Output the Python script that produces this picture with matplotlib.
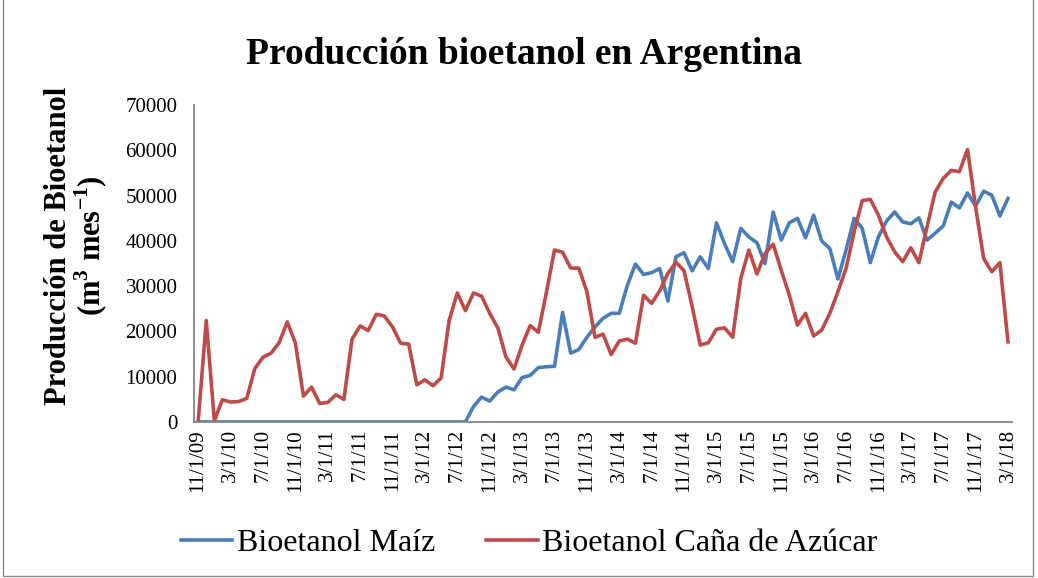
import numpy as np
import pandas as pd
import matplotlib
matplotlib.use("Agg")
import matplotlib.pyplot as plt
from matplotlib.patches import Rectangle

plt.rcParams['font.family'] = ['Liberation Serif', 'DejaVu Serif']
plt.rcParams['mathtext.fontset'] = 'custom'
plt.rcParams['mathtext.rm'] = 'Liberation Serif'
plt.rcParams['mathtext.bf'] = 'Liberation Serif:bold'

# monthly data, 11/1/09 .. 3/1/18 (m3 per month)
dates = pd.date_range('2009-11-01', '2018-03-01', freq='MS')

maiz = [0] * 34 + [
    3400, 5500, 4600, 6600, 7700, 7100, 9800, 10300, 12000, 12200,
    12300, 24200, 15200, 16000, 18700, 21000, 22900, 24000, 24000, 30200,
    34900, 32600, 33000, 33900, 26700, 36500, 37400, 33400, 36500, 33900,
    44000, 39400, 35400, 42800, 40900, 39600, 35000, 46400, 40200, 44000,
    45000, 40700, 45700, 40000, 38300, 31600, 38000, 45000, 42800, 35200,
    40900, 44400, 46400, 44200, 43800, 45100, 40200, 41700, 43300, 48600,
    47300, 50600, 47700, 51000, 50100, 45500, 49400,
]

cana = [
    0, 22400, 300, 4900, 4400, 4500, 5200, 11800, 14300, 15200,
    17500, 22100, 17500, 5700, 7700, 4100, 4300, 6000, 5000, 18300,
    21200, 20200, 23800, 23400, 21000, 17400, 17200, 8200, 9300, 8000,
    9700, 22500, 28500, 24600, 28500, 27800, 24000, 20800, 14400, 11700,
    17000, 21300, 19800, 28600, 38000, 37500, 34000, 34000, 28800, 18700,
    19400, 14900, 17900, 18300, 17400, 28000, 26200, 29000, 32800, 35300,
    33400, 25500, 17000, 17500, 20500, 20800, 18700, 31700, 38000, 32700,
    37200, 39300, 33500, 28000, 21400, 24000, 19000, 20300, 24000, 28800,
    33900, 42000, 48900, 49200, 45700, 40900, 37600, 35400, 38500, 35200,
    43100, 50800, 53800, 55600, 55300, 60200, 47500, 36100, 33200, 35200,
    17700,
]

labels = [f"{d.month}/{d.day}/{d.strftime('%y')}" for d in dates]
x = np.arange(len(dates))

fig = plt.figure(figsize=(10.38, 5.78), dpi=100)
ax = fig.add_axes([0.187, 0.270, 0.788, 0.548])

ax.plot(x, maiz, color='#4A7EBB', lw=2.6, label='Bioetanol Maíz', solid_joinstyle='round')
ax.plot(x, cana, color='#BE4B48', lw=2.6, label='Bioetanol Caña de Azúcar', solid_joinstyle='round')

ax.set_xlim(-0.5, len(dates) - 0.5)
ax.set_ylim(0, 70000)
ax.set_yticks(np.arange(0, 70001, 10000))
ax.set_xticks(x[::4])
ax.set_xticklabels(labels[::4], rotation=90)
ax.tick_params(axis='y', length=0, pad=12, labelsize=15)
ax.tick_params(axis='x', length=0, pad=5, labelsize=15)

for s in ['top', 'right']:
    ax.spines[s].set_visible(False)
for s in ['left', 'bottom']:
    ax.spines[s].set_color('#868686')
    ax.spines[s].set_linewidth(1.3)

fig.text(0.505, 0.905, 'Producción bioetanol en Argentina', ha='center', va='center',
         fontsize=27, fontweight='bold')
fig.text(0.074, 0.575, 'Producción de Bioetanol\n(m$^{\\mathbf{3}}$ mes$^{\\mathbf{-1}}$)',
         rotation=90, ha='center', va='center', multialignment='center',
         fontsize=22, fontweight='bold', linespacing=1.0)

fig.legend(loc='center', bbox_to_anchor=(0.51, 0.06), ncol=2, frameon=False,
           fontsize=23, handlelength=1.6, handletextpad=0.15, columnspacing=1.6)

fig.patches.append(Rectangle((0.003, 0.004), 0.992, 1.2, transform=fig.transFigure,
                             fill=False, edgecolor='#8c8c8c', lw=1.0))

fig.savefig('out.png', dpi=100)
